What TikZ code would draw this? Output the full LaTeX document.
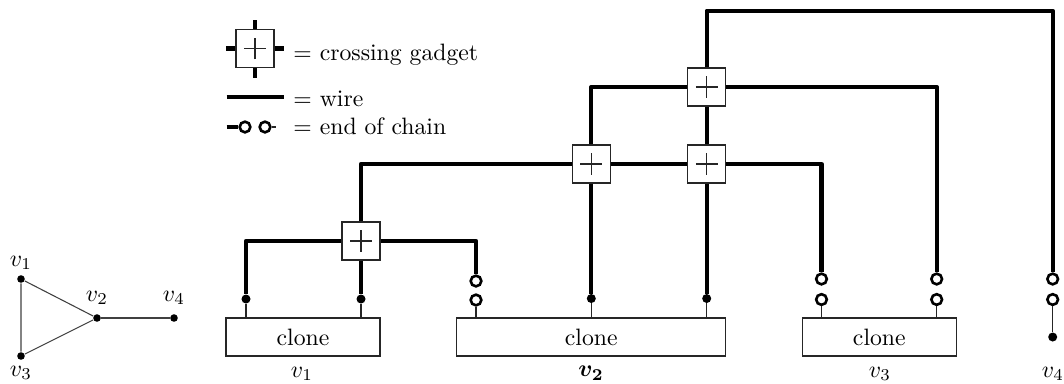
\documentclass[tikz,border=0pt]{standalone}
\usepackage{amsmath}
\usetikzlibrary{calc}
\tikzset{
  x=0.4219pt, y=-0.4219pt,
  wire/.style={line width=1.8pt, line join=round},
  thinline/.style={line width=0.5pt, black!85},
  gadget/.style={draw=black!85, line width=0.5pt, fill=white, minimum size=16pt, inner sep=0pt,
    path picture={\draw[line width=0.55pt] ($(path picture bounding box.center)+(-4.6pt,0)$) -- ($(path picture bounding box.center)+(4.6pt,0)$);
      \draw[line width=0.55pt] ($(path picture bounding box.center)+(0,-4.6pt)$) -- ($(path picture bounding box.center)+(0,4.6pt)$);}},
  chain/.style={circle, draw, line width=1.1pt, fill=white, minimum size=4.5pt, inner sep=0pt},
  dot/.style={circle, fill=black, minimum size=3.8pt, inner sep=0pt},
  gdot/.style={circle, fill=black, minimum size=3.2pt, inner sep=0pt},
  clonebox/.style={draw=black!85, line width=0.5pt, minimum height=16pt, inner sep=0pt},
  gedge/.style={line width=0.45pt, black!75},
  lbl/.style={inner sep=0pt},
}
\begin{document}
\begin{tikzpicture}
\useasboundingbox (0,0) rectangle (1064,383);

% ---------- small graph ----------
\node[gdot] (g1) at (21,279) {};
\node[gdot] (g2) at (97,318) {};
\node[gdot] (g3) at (21,356) {};
\node[gdot] (g4) at (174,318) {};
\node[lbl] (lg1) at (21,263) {$v_1$};
\node[lbl] (lg2) at (97,298) {$v_2$};
\node[lbl] (lg3) at (21,373) {$v_3$};
\node[lbl] (lg4) at (174,298) {$v_4$};
\draw[gedge] (g1) -- (g2) -- (g3) -- (g1);
\draw[gedge] (g2) -- (g4);

% ---------- legend ----------
\node[gadget] (lgad) at (255,48.5) {};
\coordinate (lgt) at (255,20);
\coordinate (lgb) at (255,77.5);
\coordinate (lgl) at (226,48.5);
\coordinate (lgr) at (284,48.5);
\draw[line width=1.8pt] (lgt) -- (lgad.north);
\draw[line width=1.8pt] (lgad.south) -- (lgb);
\draw[line width=1.8pt] (lgl) -- (lgad.west);
\draw[line width=1.8pt] (lgad.east) -- (lgr);
\node[lbl, anchor=base west] (t1) at (293,60) {$=$ crossing gadget};

\coordinate (lw1) at (226.5,97.3);
\coordinate (lw2) at (284,97.3);
\draw[wire] (lw1) -- (lw2);
\node[lbl, anchor=base west] (t2) at (293,106.5) {$=$ wire};

\coordinate (le1) at (226.5,127);
\node[chain] (lc1) at (245,127) {};
\node[chain] (lc2) at (265,127) {};
\coordinate (le2) at (276,127);
\draw[wire] (le1) -- (lc1.west);
\draw[thinline] (lc2.east) -- (le2);
\node[lbl, anchor=base west] (t3) at (293,134) {$=$ end of chain};

% ---------- clone boxes ----------
\node[clonebox, minimum width=65pt] (b1) at (303,337) {clone};
\node[clonebox, minimum width=113.5pt] (b2) at (591.3,337) {clone};
\node[clonebox, minimum width=64.8pt] (b3) at (879.3,337) {clone};
\node[lbl] (l1) at (302,374) {$v_1$};
\node[lbl] (l2) at (591,373) {$\boldsymbol{v_2}$};
\node[lbl] (l3) at (880,374) {$v_3$};
\node[lbl] (l4) at (1053,374) {$v_4$};

% ---------- terminals ----------
\node[dot] (d1a) at (246,299) {};
\node[dot] (d1b) at (361,299) {};
\node[chain] (c2a) at (476,281) {};
\node[chain] (c2b) at (476,300) {};
\node[dot] (d2b) at (591.3,298.5) {};
\node[dot] (d2c) at (706.7,298.5) {};
\node[chain] (c3a) at (821.5,279) {};
\node[chain] (c3b) at (821.5,299.5) {};
\node[chain] (c3c) at (936.7,279) {};
\node[chain] (c3d) at (936.7,299.5) {};
\node[chain] (c4a) at (1052.7,279) {};
\node[chain] (c4b) at (1052.7,299.5) {};
\node[dot] (d4) at (1052.7,337) {};

% thin stubs to boxes
\draw[thinline] (d1a) -- (d1a |- b1.north);
\draw[thinline] (d1b) -- (d1b |- b1.north);
\draw[thinline] (c2b) -- (c2b |- b2.north);
\draw[thinline] (d2b) -- (d2b |- b2.north);
\draw[thinline] (d2c) -- (d2c |- b2.north);
\draw[thinline] (c3b) -- (c3b |- b3.north);
\draw[thinline] (c3d) -- (c3d |- b3.north);
\draw[thinline] (c4b) -- (d4);

% ---------- crossing gadgets ----------
\node[gadget] (x1) at (361,241) {};
\node[gadget] (x2) at (591.3,164) {};
\node[gadget] (x3) at (706.7,164) {};
\node[gadget] (x4) at (706.7,87) {};
\coordinate (top) at (706.7,10.8);

% ---------- wires ----------
\draw[wire] (d1a) |- (x1.west);
\draw[wire] (x1.east) -| (c2a);
\draw[wire] (x1.south) -- (d1b);
\draw[wire] (x1.north) |- (x2.west);
\draw[wire] (x2.east) -- (x3.west);
\draw[wire] (x3.east) -| (c3a);
\draw[wire] (x2.south) -- (d2b);
\draw[wire] (x2.north) |- (x4.west);
\draw[wire] (x4.east) -| (c3c);
\draw[wire] (x3.south) -- (d2c);
\draw[wire] (x3.north) -- (x4.south);
\draw[wire] (x4.north) -- (top) -| (c4a);
\end{tikzpicture}
\end{document}
